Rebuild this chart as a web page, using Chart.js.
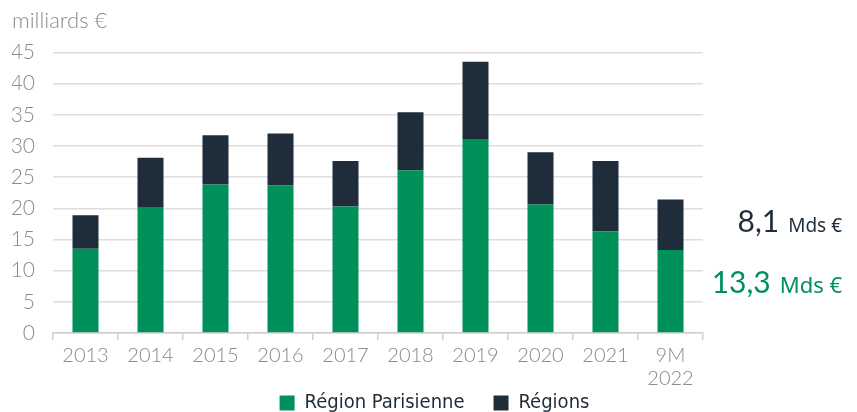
<!DOCTYPE html>
<html>
<head>
<meta charset="utf-8">
<script src="https://cdn.jsdelivr.net/npm/chart.js@4/dist/chart.umd.min.js"></script>
<style>
  html, body { margin: 0; padding: 0; background: #fff; overflow: hidden; }
  #wrap { width: 857px; height: 423px; position: relative; }
</style>
</head>
<body>
<div id="wrap"><canvas id="chart"></canvas></div>
<script>
const labels = ['2013', '2014', '2015', '2016', '2017', '2018', '2019', '2020', '2021', ['9M', '2022']];
const regionParisienne = [13.5, 20.1, 23.8, 23.7, 20.3, 26.1, 31.0, 20.6, 16.3, 13.3];
const regions = [5.4, 8.0, 7.9, 8.3, 7.3, 9.3, 12.5, 8.4, 11.3, 8.1];
const lastNotes = [
  {big: '13,3', small: 'Mds €', color: '#00905a', smallSize: 22, dy: 1},
  {big: '8,1', small: 'Mds €', color: '#1f2d3a', smallSize: 19, dy: 7}
];

const green = '#00905a';
const navy = '#1f2d3a';
const light = 'Lato';

// writes the "Mds €" notes on the right, level with each segment of the last bar
const sideNotes = {
  id: 'sideNotes',
  afterDraw(chart) {
    const ctx = chart.ctx;
    const y = chart.scales.y;
    const last = labels.length - 1;
    const bottoms = [0, regionParisienne[last]];
    const tops = [regionParisienne[last], regionParisienne[last] + regions[last]];
    const right = 842;
    ctx.save();
    ctx.textBaseline = 'alphabetic';
    ctx.textAlign = 'right';
    lastNotes.forEach((n, i) => {
      const base = y.getPixelForValue((bottoms[i] + tops[i]) / 2) + n.dy;
      ctx.fillStyle = n.color;
      ctx.font = `400 ${n.smallSize}px "Noto Sans"`;
      const w = ctx.measureText(n.small).width;
      ctx.fillText(n.small, right, base);
      ctx.font = '400 30px ' + light;
      ctx.fillText(n.big, right - w - 9, base);
    });
    ctx.restore();
  }
};

new Chart(document.getElementById('chart').getContext('2d'), {
  type: 'bar',
  data: {
    labels,
    datasets: [
      {
        label: 'Région Parisienne',
        data: regionParisienne,
        backgroundColor: green,
        barPercentage: 0.4,
        categoryPercentage: 1
      },
      {
        label: 'Régions',
        data: regions,
        backgroundColor: navy,
        barPercentage: 0.4,
        categoryPercentage: 1
      }
    ]
  },
  options: {
    responsive: true,
    maintainAspectRatio: false,
    animation: false,
    layout: {padding: {left: 12, right: 0, top: 8, bottom: 0}},
    scales: {
      x: {
        stacked: true,
        // short box so the legend sits close; labels are let out of it (no clipping)
        afterFit: s => {
          s.height = 31;
          s._computeLabelArea = () => undefined;
        },
        grid: {drawOnChartArea: false, offset: true, tickLength: 7, color: '#cfcfcf', lineWidth: 1.5},
        border: {color: '#cfcfcf', width: 1.5},
        ticks: {color: '#8a8a8a', font: {family: light, size: 20, weight: 300, lineHeight: 1.15}, padding: 4, maxRotation: 0, autoSkip: false}
      },
      y: {
        stacked: true,
        min: 0,
        max: 45,
        afterFit: s => { s.width = 41; },
        ticks: {stepSize: 5, color: '#8a8a8a', font: {family: light, size: 21, weight: 300}, padding: 18},
        grid: {color: '#dedede', lineWidth: 1.5, drawTicks: false},
        border: {display: false}
      },
      // empty right axis keeps room for the side notes
      side: {
        position: 'right',
        afterFit: s => { s.width = 154; },
        ticks: {display: false},
        grid: {display: false},
        border: {display: false}
      }
    },
    plugins: {
      title: {
        display: true,
        text: 'milliards €',
        align: 'start',
        color: '#8a8a8a',
        font: {family: light, size: 22, weight: 300},
        padding: {top: 0, bottom: 18}
      },
      legend: {
        position: 'bottom',
        labels: {
          boxWidth: 15,
          boxHeight: 15,
          color: navy,
          font: {family: '"DejaVu Sans Condensed", sans-serif', size: 20},
          padding: 29
        }
      },
      tooltip: {enabled: false}
    }
  },
  plugins: [sideNotes]
});
</script>
</body>
</html>
